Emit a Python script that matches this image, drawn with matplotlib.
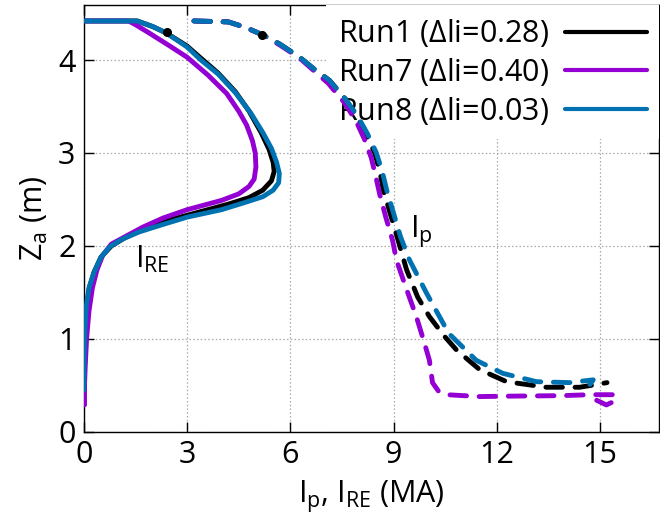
import matplotlib
matplotlib.use("Agg")
import matplotlib.pyplot as plt

plt.rcParams.update({
    "font.family": ["Open Sans", "DejaVu Sans"],
    "font.size": 22,
    "mathtext.fontset": "custom",
    "mathtext.rm": "Open Sans",
    "mathtext.it": "Open Sans",
    "mathtext.default": "regular",
    "axes.linewidth": 1.0,
})

C_RUN1 = "#000000"
C_RUN7 = "#9400D3"
C_RUN8 = "#0072B2"

# I_RE (MA) vs Z_a (m), solid curves
ire1_x = [0.0, 1.55, 2.0, 2.4, 3.0, 3.4, 3.9, 4.4, 4.8, 5.15, 5.38, 5.5, 5.53, 5.45, 5.2,
          4.8, 4.2, 3.4, 2.5, 1.8, 1.2, 0.8, 0.5, 0.3, 0.16, 0.08, 0.04, 0.01, 0.0]
ire1_z = [4.42, 4.42, 4.36, 4.29, 4.15, 4.02, 3.86, 3.66, 3.45, 3.22, 3.04, 2.9, 2.8, 2.7, 2.6,
          2.52, 2.45, 2.37, 2.28, 2.19, 2.09, 2.0, 1.88, 1.72, 1.55, 1.35, 1.1, 0.7, 0.3]

ire7_x = [0.0, 1.3, 1.5, 1.9, 2.5, 3.0, 3.6, 4.15, 4.5, 4.73, 4.9, 4.98, 5.0, 4.95, 4.8,
          4.5, 4.0, 3.0, 2.3, 1.7, 1.2, 0.8, 0.55, 0.38, 0.25, 0.15, 0.08, 0.04, 0.02, 0.02]
ire7_z = [4.42, 4.42, 4.38, 4.29, 4.15, 4.03, 3.84, 3.64, 3.45, 3.3, 3.13, 3.0, 2.85, 2.72, 2.64,
          2.56, 2.49, 2.39, 2.3, 2.2, 2.1, 2.02, 1.9, 1.74, 1.55, 1.3, 1.0, 0.7, 0.5, 0.29]

ire8_x = [0.0, 1.55, 2.0, 2.4, 3.0, 3.4, 3.9, 4.4, 4.85, 5.2, 5.45, 5.6, 5.68, 5.66, 5.5,
          5.2, 4.7, 4.0, 3.0, 2.2, 1.6, 1.1, 0.75, 0.5, 0.3, 0.15, 0.07, 0.03, 0.01, 0.0]
ire8_z = [4.42, 4.42, 4.36, 4.29, 4.14, 4.0, 3.85, 3.65, 3.43, 3.22, 3.05, 2.9, 2.78, 2.68, 2.6,
          2.53, 2.47, 2.39, 2.31, 2.22, 2.15, 2.07, 1.99, 1.88, 1.72, 1.55, 1.35, 1.1, 0.8, 0.45]

# I_p (MA) vs Z_a (m), dashed curves
ip1_x = [3.2, 4.2, 4.7, 5.2, 5.7, 6.27, 6.7, 7.14, 7.6, 7.95, 8.2, 8.45, 8.6, 8.7, 8.9,
         9.1, 9.38, 9.7, 10.04, 10.45, 10.83, 11.5, 12.28, 13.44, 14.4, 14.9, 15.2]
ip1_z = [4.42, 4.41, 4.35, 4.27, 4.17, 4.03, 3.9, 3.78, 3.58, 3.38, 3.2, 3.0, 2.8, 2.6, 2.35,
         2.1, 1.74, 1.45, 1.24, 1.04, 0.88, 0.67, 0.54, 0.48, 0.48, 0.51, 0.53]

ip7_x = [3.2, 4.2, 4.7, 5.2, 5.7, 6.27, 6.7, 7.1, 7.55, 7.9, 8.15, 8.35, 8.48, 8.6, 8.78,
         8.97, 9.08, 9.36, 9.66, 9.9, 10.04, 10.13, 10.3, 10.54, 11.5, 12.5, 13.9, 14.7,
         15.36, 15.47, 15.18, 14.9]
ip7_z = [4.42, 4.41, 4.35, 4.27, 4.16, 4.02, 3.88, 3.75, 3.55, 3.35, 3.15, 2.95, 2.75, 2.55, 2.3,
         2.06, 1.85, 1.55, 1.24, 0.95, 0.77, 0.53, 0.44, 0.4, 0.38, 0.385, 0.39, 0.4,
         0.4, 0.34, 0.29, 0.34]

ip8_x = [3.2, 4.2, 4.7, 5.2, 5.7, 6.27, 6.7, 7.14, 7.6, 7.95, 8.25, 8.5, 8.67, 8.8, 9.0,
         9.2, 9.46, 9.96, 10.6, 11.4, 12.17, 13.15, 14.1, 14.8, 14.55]
ip8_z = [4.42, 4.41, 4.35, 4.27, 4.17, 4.03, 3.9, 3.78, 3.58, 3.4, 3.2, 3.0, 2.8, 2.6, 2.35,
         2.1, 1.85, 1.49, 1.06, 0.77, 0.63, 0.54, 0.53, 0.56, 0.43]

# small kinks on the Run1 curves
kink_x = [2.41, 5.17]
kink_z = [4.30, 4.27]

xticks = [0, 3, 6, 9, 12, 15]
yticks = [0, 1, 2, 3, 4]

fig = plt.figure(figsize=(6.6, 5.16), dpi=100)
ax = fig.add_axes([0.127, 0.163, 0.872, 0.827])

lw = 3.5
dash = (3.4, 2.6)
runs = [
    ("Run1 ($\\Delta$li=0.28)", C_RUN1, ire1_x, ire1_z, ip1_x, ip1_z),
    ("Run7 ($\\Delta$li=0.40)", C_RUN7, ire7_x, ire7_z, ip7_x, ip7_z),
    ("Run8 ($\\Delta$li=0.03)", C_RUN8, ire8_x, ire8_z, ip8_x, ip8_z),
]
for label, col, rx, rz, px, pz in runs:
    ax.plot(rx, rz, color=col, lw=lw, solid_capstyle="round", label=label, zorder=3)
    ax.plot(px, pz, color=col, lw=lw, dashes=dash, dash_capstyle="round", zorder=3)
ax.plot(kink_x, kink_z, "o", color=C_RUN1, ms=5.5, zorder=3)

ax.text(1.48, 1.76, "I$_{RE}$", ha="left", va="baseline", fontsize=22, zorder=4)
ax.text(9.49, 2.09, "I$_p$", ha="left", va="baseline", fontsize=22, zorder=4)

ax.set_xlim(0, 16.72)
ax.set_ylim(0, 4.59)
ax.set_xticks(xticks)
ax.set_yticks(yticks)
ax.tick_params(direction="in", length=7, width=1.0, top=True, right=True, pad=6)
ax.grid(True, color="#a8a8a8", linestyle=(0, (1.2, 1.8)), linewidth=0.9)
ax.set_axisbelow(True)

ax.set_xlabel("I$_p$, I$_{RE}$ (MA)", labelpad=6)
ax.set_ylabel("Z$_a$ (m)", labelpad=6)

leg = ax.legend(loc="upper right", bbox_to_anchor=(1.0, 1.0), borderaxespad=0.0,
                markerfirst=False, handlelength=2.7, handletextpad=0.5,
                labelspacing=0.22, borderpad=0.4, frameon=True, fancybox=False,
                framealpha=1.0, facecolor="white", edgecolor="none", fontsize=22)
for line in leg.get_lines():
    line.set_linewidth(3.0)
leg.set_zorder(2.5)

fig.savefig("out.png", dpi=100)
